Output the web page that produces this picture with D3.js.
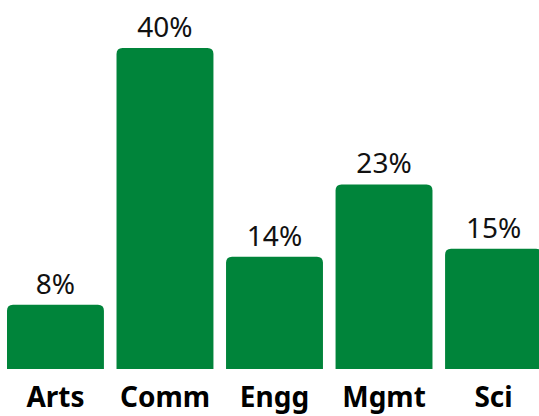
<!DOCTYPE html>
<html>
<head>
<meta charset="utf-8">
<script src="https://cdn.jsdelivr.net/npm/d3@7"></script>
<style>
  html, body { margin: 0; padding: 0; background: #fff; }
  svg { display: block; }
</style>
</head>
<body>
<div id="chart"></div>
<script>
// chart data
const categories = ['Arts', 'Comm', 'Engg', 'Mgmt', 'Sci'];
const shares = [8, 40, 14, 23, 15];

const width = 539, height = 416;
const margin = { top: 48, right: -3, bottom: 47, left: 7 };
const barColor = '#00843a';
const radius = 6;
const fontFamily = '"Source Sans Pro", "Noto Sans", sans-serif';

const svg = d3.select('#chart').append('svg')
  .attr('width', width)
  .attr('height', height)
  .attr('viewBox', `0 0 ${width} ${height}`);

const x = d3.scaleBand()
  .domain(categories)
  .range([margin.left, width - margin.right])
  .paddingInner(0.115)
  .paddingOuter(0);

const y = d3.scaleLinear()
  .domain([0, d3.max(shares)])
  .range([height - margin.bottom, margin.top]);

const data = categories.map((c, i) => ({ cat: c, v: shares[i] }));

// bar with rounded top corners only
function topRounded (x0, y0, w, h, r) {
  return `M${x0},${y0 + h}` +
    `V${y0 + r}` +
    `Q${x0},${y0} ${x0 + r},${y0}` +
    `H${x0 + w - r}` +
    `Q${x0 + w},${y0} ${x0 + w},${y0 + r}` +
    `V${y0 + h}Z`;
}

svg.append('g')
  .selectAll('path')
  .data(data)
  .enter().append('path')
  .attr('d', d => topRounded(x(d.cat), y(d.v), x.bandwidth(), y(0) - y(d.v), radius))
  .attr('fill', barColor);

// value labels
svg.append('g')
  .selectAll('text')
  .data(data)
  .enter().append('text')
  .attr('x', d => x(d.cat) + x.bandwidth() / 2)
  .attr('y', d => y(d.v) - 11)
  .attr('text-anchor', 'middle')
  .style('font-family', fontFamily)
  .style('font-size', '28px')
  .style('fill', '#111')
  .text(d => d.v + '%');

// category axis
const axis = svg.append('g')
  .attr('transform', `translate(0,${y(0)})`)
  .call(d3.axisBottom(x).tickSize(0).tickPadding(0));

axis.select('.domain').remove();
axis.selectAll('text')
  .attr('dy', null)
  .attr('y', 38)
  .style('font-family', fontFamily)
  .style('font-size', '28px')
  .style('font-weight', 'bold')
  .style('fill', '#000');
</script>
</body>
</html>
